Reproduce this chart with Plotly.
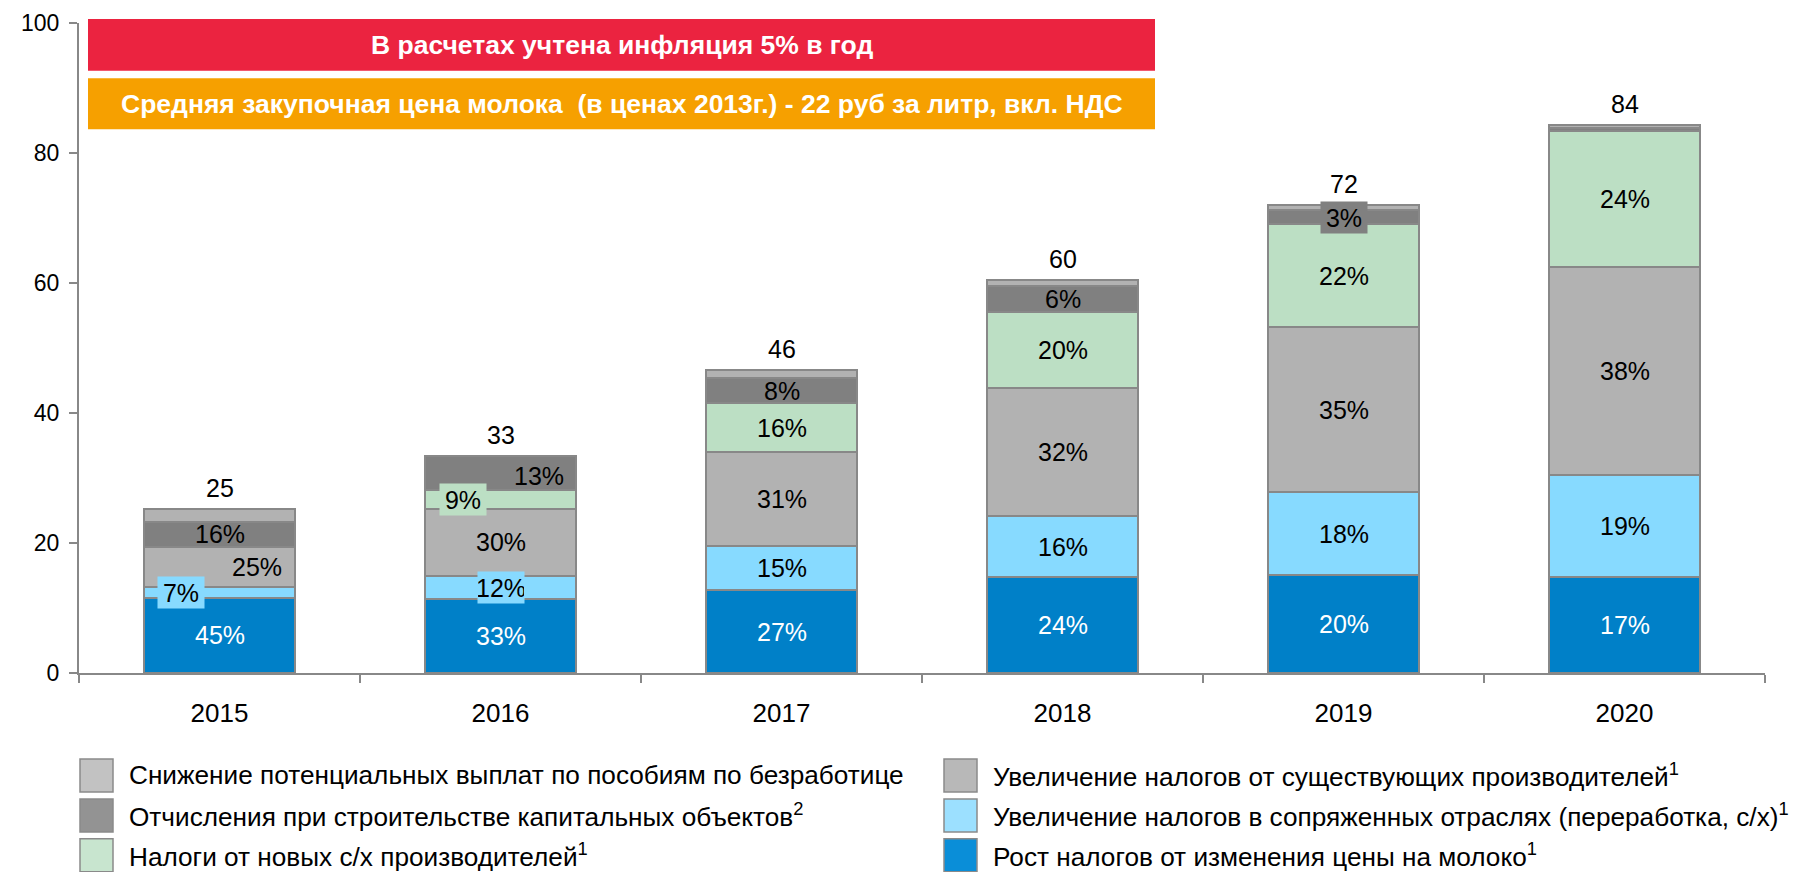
import plotly.graph_objects as go

# ---------------- data ----------------
years = ['2015', '2016', '2017', '2018', '2019', '2020']

milk_price   = [11.6, 11.4, 12.7, 14.7, 15.1, 14.8]   # Рост налогов от изменения цены на молоко
related      = [1.6, 3.6, 6.9, 9.4, 12.7, 15.7]       # сопряженные отрасли
existing     = [6.2, 10.2, 14.4, 19.7, 25.4, 32.0]    # существующие производители
new_prod     = [None, 2.9, 7.5, 11.7, 15.9, 20.9]     # новые с/х производители
capital      = [3.9, 5.3, 3.9, 4.0, 2.1, 0.5]         # отчисления при строительстве
unemployment = [1.9, None, 1.15, 1.0, 0.8, 0.4]       # снижение выплат по безработице

milk_lbl     = ['45%', '33%', '27%', '24%', '20%', '17%']
related_lbl  = ['7%', '12%', '15%', '16%', '18%', '19%']
existing_lbl = ['25%', '30%', '31%', '32%', '35%', '38%']
new_lbl      = ['', '9%', '16%', '20%', '22%', '24%']
capital_lbl  = ['16%', '13%', '8%', '6%', '3%', '']
unemp_lbl    = ['', '', '', '', '', '']
total_lbl    = ['25', '33', '46', '60', '72', '84']

names = [
    'Рост налогов от изменения цены на молоко<sup>1</sup>',
    'Увеличение налогов в сопряженных отраслях (переработка, с/х)<sup>1</sup>',
    'Увеличение налогов от существующих производителей<sup>1</sup>',
    'Налоги от новых с/х производителей<sup>1</sup>',
    'Отчисления при строительстве капитальных объектов<sup>2</sup>',
    'Снижение потенциальных выплат по пособиям по безработице',
]
banner1 = 'В расчетах учтена инфляция 5% в год'
banner2 = 'Средняя закупочная цена молока  (в ценах 2013г.) - 22 руб за литр, вкл. НДС'

# ---------------- style ----------------
series = [milk_price, related, existing, new_prod, capital, unemployment]
labels = [milk_lbl, related_lbl, existing_lbl, new_lbl, capital_lbl, unemp_lbl]
colors = ['#0080C8', '#87DAFF', '#B2B2B2', '#BCDFC4', '#808080', '#B2B2B2']
legend_colors = ['#0A8ED8', '#9CE0FF', '#B8B8B8', '#C8E5CF', '#939393', '#C2C2C2']
text_colors = ['white', 'black', 'black', 'black', 'black', 'black']
outline = '#888888'
FONT = 'Liberation Sans, Arial, sans-serif'

# special label tweaks: (series index, year index) -> (xshift, yshift, bgcolor)
special = {
    (1, 0): (-39, 0, '#87DAFF'),
    (2, 0): (37, 0, None),
    (4, 1): (38, -3, None),
    (3, 1): (-38, 0, '#BCDFC4'),
    (1, 1): (0, 0, '#87DAFF'),
    (4, 4): (0, 0, '#808080'),
}

# page offset (browser body margin) compensation
OFF = 8
W, H = 1800, 872
ML, MR, MT = 79 - OFF, 35 + OFF, 23 - OFF
MB = H - (673.5 - OFF)
PW, PH = W - ML - MR, H - MT - MB


def px_x(px):
    """page pixel x -> paper coordinate"""
    return (px - OFF - ML) / PW


def px_y(py):
    """page pixel y -> paper coordinate"""
    return (H - MB - (py - OFF)) / PH


fig = go.Figure()
for vals, col, nm in zip(series, colors, names):
    fig.add_trace(go.Bar(
        x=years, y=vals, name=nm, width=0.537,
        marker=dict(color=col, line=dict(color=outline, width=2)),
        showlegend=False, hoverinfo='x+y',
    ))

annotations = []
base = [0.0] * len(years)
for si, (vals, lbls) in enumerate(zip(series, labels)):
    for i, (v, t) in enumerate(zip(vals, lbls)):
        if v is None:
            continue
        mid = base[i] + v / 2
        if t:
            xs, ys, bg = special.get((si, i), (0, 0, None))
            a = dict(x=i, y=mid, xref='x', yref='y', text=t, showarrow=False,
                     xshift=xs, yshift=ys,
                     font=dict(family=FONT, size=25, color=text_colors[si]))
            if bg:
                a.update(bgcolor=bg, width=46, height=31, borderpad=0)
            annotations.append(a)
        base[i] += v

for i, t in enumerate(total_lbl):
    annotations.append(dict(x=i, y=base[i], xref='x', yref='y', text=t,
                            showarrow=False, yshift=21, yanchor='middle',
                            font=dict(family=FONT, size=25, color='black')))

shapes = []
# banners
b_x0, b_x1 = px_x(88), px_x(1155)
for (top, bot, col, txt) in [(19, 70.7, '#EB2340', banner1), (78.3, 129.3, '#F6A000', banner2)]:
    shapes.append(dict(type='rect', xref='paper', yref='paper', x0=b_x0, x1=b_x1,
                       y0=px_y(bot), y1=px_y(top), fillcolor=col, line=dict(width=0),
                       layer='above'))
    annotations.append(dict(xref='paper', yref='paper', x=(b_x0 + b_x1) / 2,
                            y=px_y((top + bot) / 2), text='<b>' + txt + '</b>',
                            showarrow=False, xanchor='center', yanchor='middle',
                            font=dict(family=FONT, size=26.5, color='white')))

# manual legend: two columns x three rows
legend_layout = [  # (series index, column, row)
    (5, 0, 0), (4, 0, 1), (3, 0, 2),
    (2, 1, 0), (1, 1, 1), (0, 1, 2),
]
col_x = [80, 944]
row_y = [776, 816, 856]
sw = 33
for si, c, r in legend_layout:
    x0 = col_x[c]
    yc = row_y[r]
    shapes.append(dict(type='rect', xref='paper', yref='paper',
                       x0=px_x(x0), x1=px_x(x0 + sw),
                       y0=px_y(yc + sw / 2), y1=px_y(yc - sw / 2),
                       fillcolor=legend_colors[si], line=dict(color='#8a8a8a', width=1.5)))
    annotations.append(dict(xref='paper', yref='paper', x=px_x(x0 + sw + 14), y=px_y(yc),
                            text=names[si], showarrow=False, xanchor='left', yanchor='middle',
                            font=dict(family=FONT, size=26.2, color='black')))

fig.update_layout(
    width=W, height=H,
    margin=dict(l=ML, r=MR, t=MT, b=MB, pad=0, autoexpand=False),
    barmode='stack',
    plot_bgcolor='white', paper_bgcolor='white',
    font=dict(family=FONT, color='black'),
    showlegend=False,
    annotations=annotations,
    shapes=shapes,
    xaxis=dict(type='category', range=[-0.5, 5.5], showline=True, linecolor='#888888',
               linewidth=2, ticks='outside', tickson='boundaries', ticklen=8,
               tickcolor='#888888', tickwidth=2, showgrid=False, automargin=False,
               tickfont=dict(family=FONT, size=26, color='black'), ticklabelstandoff=16),
    yaxis=dict(range=[0, 100], dtick=20, showline=True, linecolor='#888888', linewidth=2,
               ticks='outside', ticklen=8, tickcolor='#888888', tickwidth=2,
               showgrid=False, zeroline=False, automargin=False,
               tickfont=dict(family=FONT, size=23, color='black'), ticklabelstandoff=5),
)

fig.write_html('out.html')
